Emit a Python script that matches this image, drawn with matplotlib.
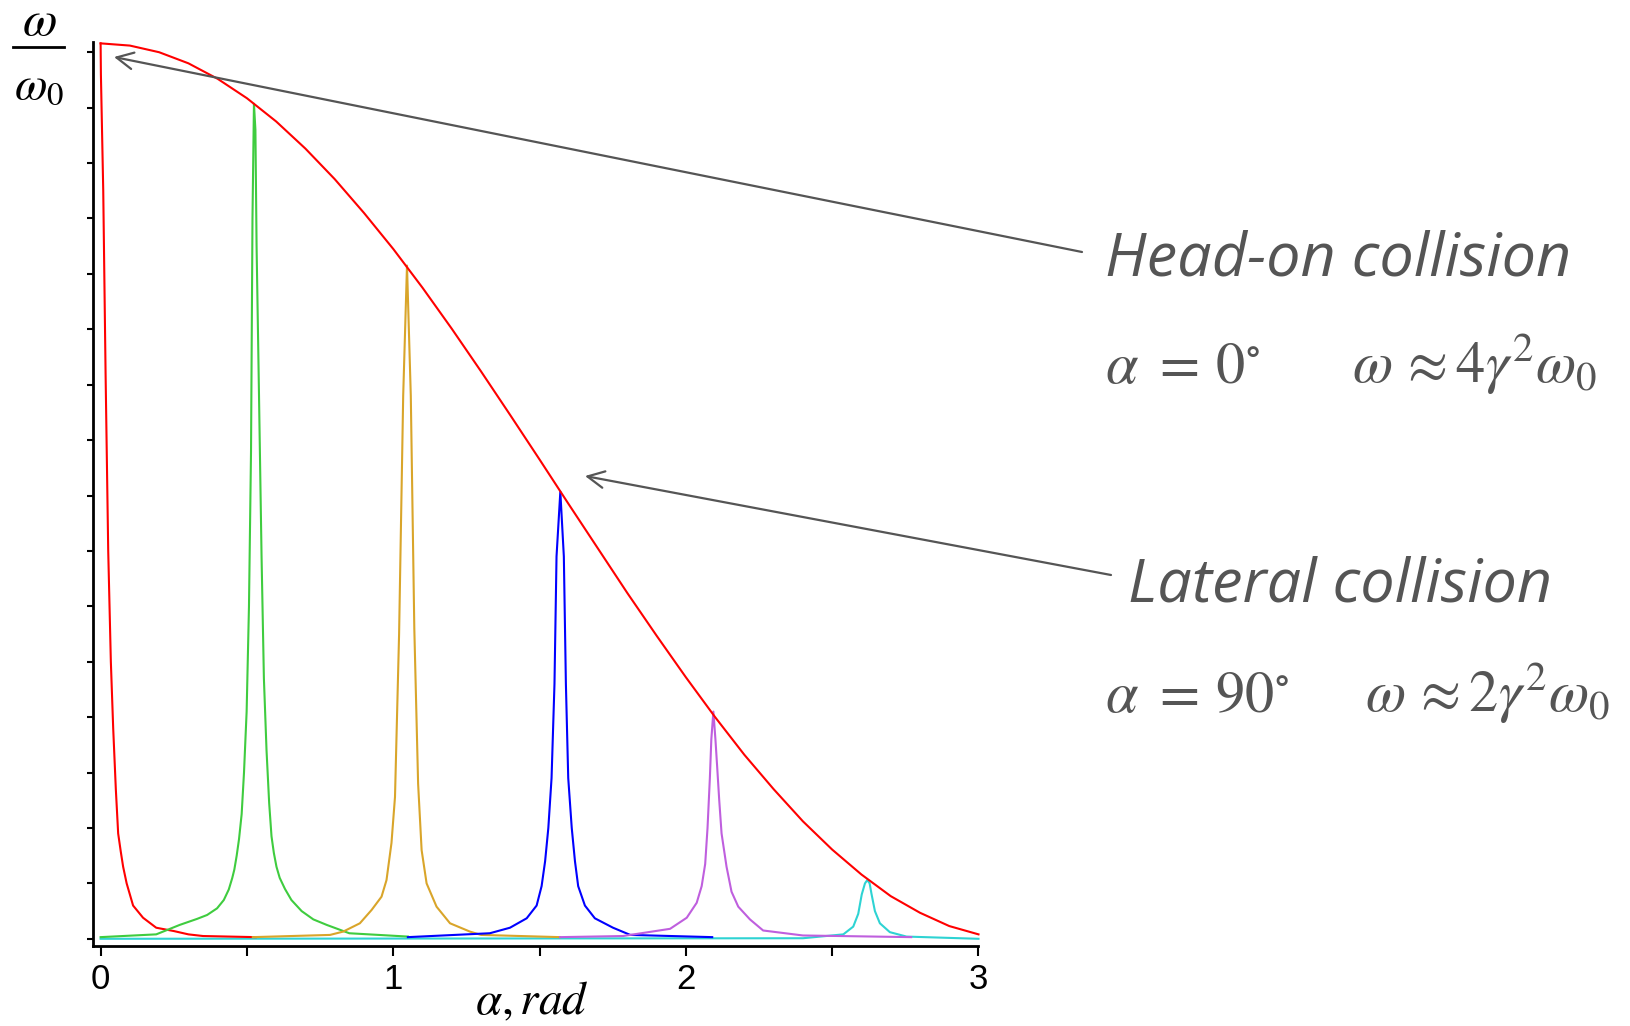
import matplotlib.pyplot as plt
from matplotlib.lines import Line2D

plt.rcParams['mathtext.fontset'] = 'stix'

# envelope omega/omega0 vs alpha (red)
env_x = [0.0, 0.1, 0.2, 0.3, 0.4, 0.5, 0.6, 0.7, 0.8, 0.9, 1.0, 1.1, 1.2, 1.3, 1.4, 1.5,
         1.6, 1.7, 1.8, 1.9, 2.0, 2.1, 2.2, 2.3, 2.4, 2.5, 2.6, 2.7, 2.8, 2.9, 3.0]
env_y = [16.16, 16.12, 16.0, 15.80, 15.52, 15.17, 14.75, 14.26, 13.71, 13.10, 12.45, 11.75,
         11.01, 10.24, 9.45, 8.65, 7.84, 7.04, 6.24, 5.47, 4.72, 4.00, 3.32, 2.70, 2.12,
         1.61, 1.16, 0.77, 0.47, 0.23, 0.08]

# spectra at alpha = 0, 30, 60, 90, 120, 150 deg
red_x = [0.0, 0.001, 0.009, 0.017, 0.026, 0.035, 0.043, 0.052, 0.060, 0.069, 0.077, 0.089,
         0.111, 0.145, 0.19, 0.25, 0.30, 0.35, 0.53]
red_y = [16.16, 15.6, 13.5, 10.2, 7.0, 5.0, 3.8, 2.7, 1.9, 1.57, 1.3, 1.0,
         0.6, 0.38, 0.2, 0.14, 0.08, 0.05, 0.03]

green_x = [0.00, 0.19, 0.27, 0.33, 0.364, 0.398, 0.421, 0.438, 0.450, 0.457, 0.465, 0.473,
           0.482, 0.490, 0.499, 0.507, 0.514, 0.519, 0.524, 0.529, 0.533, 0.541, 0.550,
           0.558, 0.567, 0.576, 0.584, 0.592, 0.601, 0.612, 0.630, 0.652, 0.687, 0.727,
           0.773, 0.85, 1.05]
green_y = [0.03, 0.08, 0.25, 0.36, 0.43, 0.55, 0.70, 0.89, 1.10, 1.25, 1.50, 1.80,
           2.25, 3.00, 4.10, 6.00, 8.80, 13.0, 15.07, 14.6, 12.5, 9.9, 6.9,
           4.7, 3.4, 2.45, 1.85, 1.55, 1.30, 1.10, 0.90, 0.70, 0.50, 0.35,
           0.25, 0.10, 0.04]

orange_x = [0.52, 0.784, 0.829, 0.886, 0.926, 0.960, 0.977, 0.994, 1.006, 1.020, 1.034,
            1.047, 1.060, 1.072, 1.085, 1.097, 1.114, 1.148, 1.194, 1.262, 1.30, 1.57]
orange_y = [0.03, 0.07, 0.13, 0.28, 0.52, 0.76, 1.06, 1.73, 2.56, 5.5, 9.8,
            12.15, 9.8, 5.6, 2.8, 1.60, 1.0, 0.58, 0.28, 0.13, 0.07, 0.03]

blue_x = [1.05, 1.33, 1.399, 1.456, 1.490, 1.507, 1.519, 1.530, 1.541, 1.551, 1.558, 1.571,
          1.583, 1.590, 1.598, 1.610, 1.621, 1.632, 1.655, 1.689, 1.751, 1.81, 2.09]
blue_y = [0.03, 0.10, 0.2, 0.37, 0.6, 0.95, 1.4, 2.0, 2.9, 4.6, 6.9, 8.07,
          6.9, 4.6, 2.9, 2.0, 1.4, 0.95, 0.6, 0.37, 0.2, 0.07, 0.03]

purple_x = [1.57, 1.785, 1.946, 2.003, 2.037, 2.054, 2.066, 2.074, 2.082, 2.087, 2.094,
            2.101, 2.107, 2.114, 2.122, 2.139, 2.156, 2.179, 2.219, 2.264, 2.40, 2.77]
purple_y = [0.03, 0.05, 0.18, 0.38, 0.65, 0.95, 1.35, 2.0, 2.9, 3.6, 4.10,
            3.6, 3.1, 2.5, 1.9, 1.3, 0.85, 0.58, 0.35, 0.15, 0.06, 0.03]

cyan_x = [0.0, 2.40, 2.538, 2.572, 2.589, 2.601, 2.612, 2.620, 2.628, 2.634, 2.646, 2.663,
          2.697, 2.754, 3.0]
cyan_y = [0.0, 0.01, 0.08, 0.22, 0.45, 0.80, 1.0, 1.06, 1.0, 0.82, 0.50, 0.28,
          0.12, 0.04, 0.0]

x_ticks = [0, 0.5, 1, 1.5, 2, 2.5, 3]
x_ticklabels = ['0', '', '1', '', '2', '', '3']
y_ticks = list(range(0, 17))

W, H = 1631, 1026
fig = plt.figure(figsize=(W / 100, H / 100), dpi=100)
ax = fig.add_axes([93 / W, 80 / H, (978.5 - 93) / W, (946 - 41.7) / H])

lw = 1.5
ax.plot(cyan_x, cyan_y, color='#2ed3d3', lw=lw, clip_on=False)
ax.plot(red_x, red_y, color='#ff0000', lw=lw, clip_on=False)
ax.plot(green_x, green_y, color='#3fcc3f', lw=lw)
ax.plot(orange_x, orange_y, color='#d9a52a', lw=lw)
ax.plot(blue_x, blue_y, color='#0000ff', lw=lw)
ax.plot(purple_x, purple_y, color='#bf5fde', lw=lw)
ax.plot(env_x, env_y, color='#ff0000', lw=lw, clip_on=False)

ax.set_xlim(-0.026, 3.0)
ax.set_ylim(-0.13, 16.19)
ax.spines['top'].set_visible(False)
ax.spines['right'].set_visible(False)
for s in ['left', 'bottom']:
    ax.spines[s].set_linewidth(2)
ax.set_xticks(x_ticks)
ax.set_xticklabels(x_ticklabels, fontsize=25, family='Liberation Sans')
ax.set_yticks(y_ticks)
ax.set_yticklabels([])
ax.tick_params(axis='x', direction='out', length=7, width=1.5, pad=5)
ax.tick_params(axis='y', direction='out', length=4.5, width=1.5)

# axis labels
fig.text(532 / W, 12 / H, r'$\alpha,rad$', fontsize=34, ha='center', va='baseline')
fig.text(39 / W, 1 - 35 / H, r'$\omega$', fontsize=36, ha='center', va='baseline')
fig.text(39 / W, 1 - 99 / H, r'$\omega_0$', fontsize=34, ha='center', va='baseline')
fig.add_artist(Line2D([13 / W, 64 / W], [1 - 47 / H, 1 - 47 / H], color='black', lw=2))

# annotations
gray = '#555555'
fig.text(1105 / W, 1 - 276 / H, 'Head-on collision', fontsize=44, family='Open Sans',
         style='italic', color=gray, va='baseline')
fig.text(1105 / W, 1 - 383 / H, r'$\alpha\ =\,0^{\circ}$', fontsize=42, color=gray,
         va='baseline')
fig.text(1352 / W, 1 - 383 / H, r'$\omega\,\approx 4\gamma^2\omega_0$', fontsize=42,
         color=gray, va='baseline')
fig.text(1128 / W, 1 - 601 / H, 'Lateral collision', fontsize=44, family='Open Sans',
         style='italic', color=gray, va='baseline')
fig.text(1105 / W, 1 - 712 / H, r'$\alpha\ =\,90^{\circ}$', fontsize=42, color=gray,
         va='baseline')
fig.text(1365 / W, 1 - 712 / H, r'$\omega\,\approx 2\gamma^2\omega_0$', fontsize=42,
         color=gray, va='baseline')

arrow = dict(arrowstyle='->', color=gray, lw=1.6, mutation_scale=30, shrinkA=0, shrinkB=0)
ax.annotate('', xy=(114 / W, 1 - 57 / H), xycoords='figure fraction',
            xytext=(1082 / W, 1 - 252 / H), textcoords='figure fraction',
            arrowprops=arrow, annotation_clip=False)
ax.annotate('', xy=(585 / W, 1 - 476 / H), xycoords='figure fraction',
            xytext=(1111 / W, 1 - 575 / H), textcoords='figure fraction',
            arrowprops=arrow, annotation_clip=False)

plt.savefig('out.png', dpi=100)
